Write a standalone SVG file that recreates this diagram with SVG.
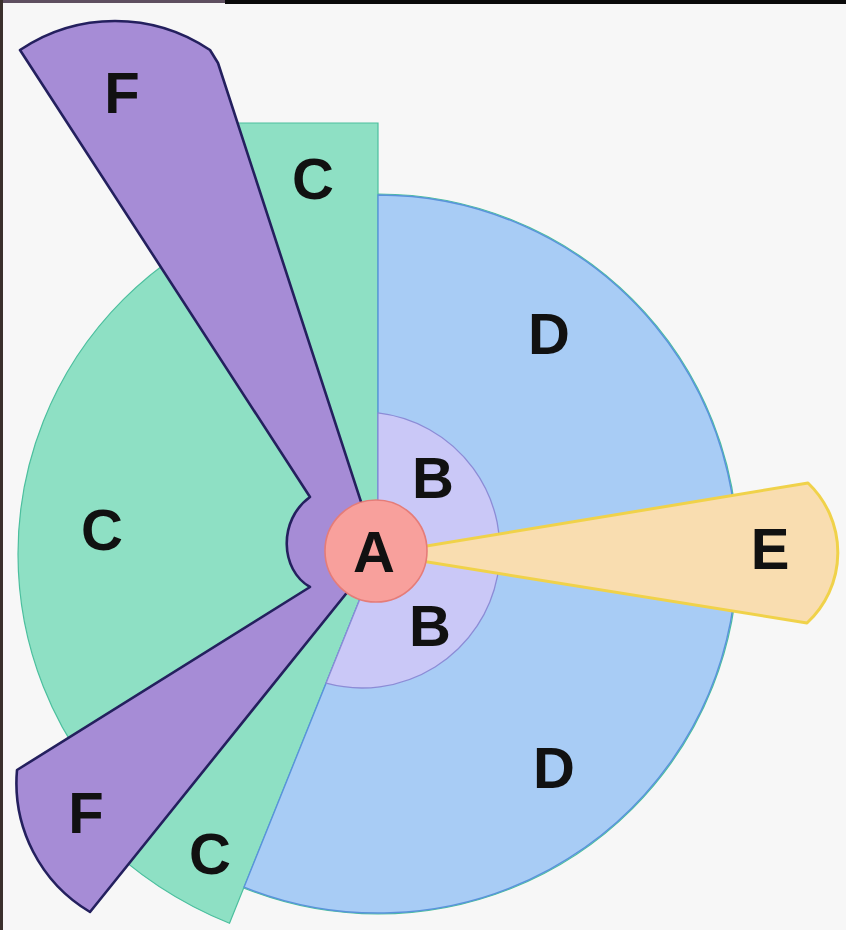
<svg xmlns="http://www.w3.org/2000/svg" width="846" height="930" viewBox="0 0 846 930">
  <style>
    .lbl { font-family: "Liberation Sans", Arial, sans-serif; font-weight: bold; font-size: 58px; fill: #111; text-anchor: middle; }
    .teal { fill: #8ee0c4; stroke: #4cbf9e; stroke-width: 1.2; }
    .blue { fill: #a8ccf5; stroke: #5a92dc; stroke-width: 1.4; }
    .lav { fill: #cac8f7; stroke: #8c8cd6; stroke-width: 1.3; }
    .purple { fill: #a68cd6; stroke: #24205e; stroke-width: 2.6; stroke-linejoin: round; }
    .peach { fill: #f9ddb0; stroke: #f0d24a; stroke-width: 3; stroke-linejoin: round; }
    .rose { fill: #f8a09c; stroke: #e57c78; stroke-width: 1.6; }
  </style>

  <!-- page -->
  <rect x="0" y="0" width="846" height="930" fill="#f7f7f7"/>
  <rect x="0" y="0" width="225" height="3" fill="#5e4f60"/>
  <rect x="225" y="0" width="621" height="4" fill="#0a0a0a"/>
  <rect x="0" y="0" width="3" height="930" fill="#3a302c"/>

  <!-- C: outer ring segments -->
  <g id="node-C">
    <circle class="teal" cx="378" cy="554" r="360"/>
    <polygon class="teal" points="378,123 230,123 378,554"/>
    <path class="teal" d="M378 554 L229.5 923.3 A398 398 0 0 1 96.6 835.4 Z"/>
  </g>

  <!-- D: right-hand disk sector -->
  <g id="node-D">
    <path class="blue" d="M378 554 L378 195 A359 359 0 1 1 244.1 887.1 Z"/>
  </g>

  <!-- B: inner sector -->
  <g id="node-B">
    <path class="lav" d="M378 554 L378 412.9 A138 138 0 1 1 326 683.2 Z"/>
  </g>

  <!-- E: narrow wedge to the right -->
  <g id="node-E">
    <path class="peach" d="M378 554 L808 483 A96 96 0 0 1 807 623 Z"/>
  </g>

  <!-- F: two blades joined around the hub -->
  <g id="node-F">
    <path class="purple" d="M20 50 A170 170 0 0 1 210 50 L218 63 L378 554 L90 912 A150 150 0 0 1 17 770 L310 587 C280 570 278 520 310 497 Z"/>
  </g>

  <!-- A: hub -->
  <g id="node-A">
    <circle class="rose" cx="376" cy="551" r="51"/>
  </g>

  <g id="connectors"></g>

  <g id="labels">
    <text class="lbl" x="122" y="113">F</text>
    <text class="lbl" x="313" y="199">C</text>
    <text class="lbl" x="549" y="354">D</text>
    <text class="lbl" x="433" y="498">B</text>
    <text class="lbl" x="374" y="572">A</text>
    <text class="lbl" x="770" y="569">E</text>
    <text class="lbl" x="102" y="550">C</text>
    <text class="lbl" x="430" y="646">B</text>
    <text class="lbl" x="554" y="788">D</text>
    <text class="lbl" x="86" y="833">F</text>
    <text class="lbl" x="210" y="874">C</text>
  </g>
</svg>
